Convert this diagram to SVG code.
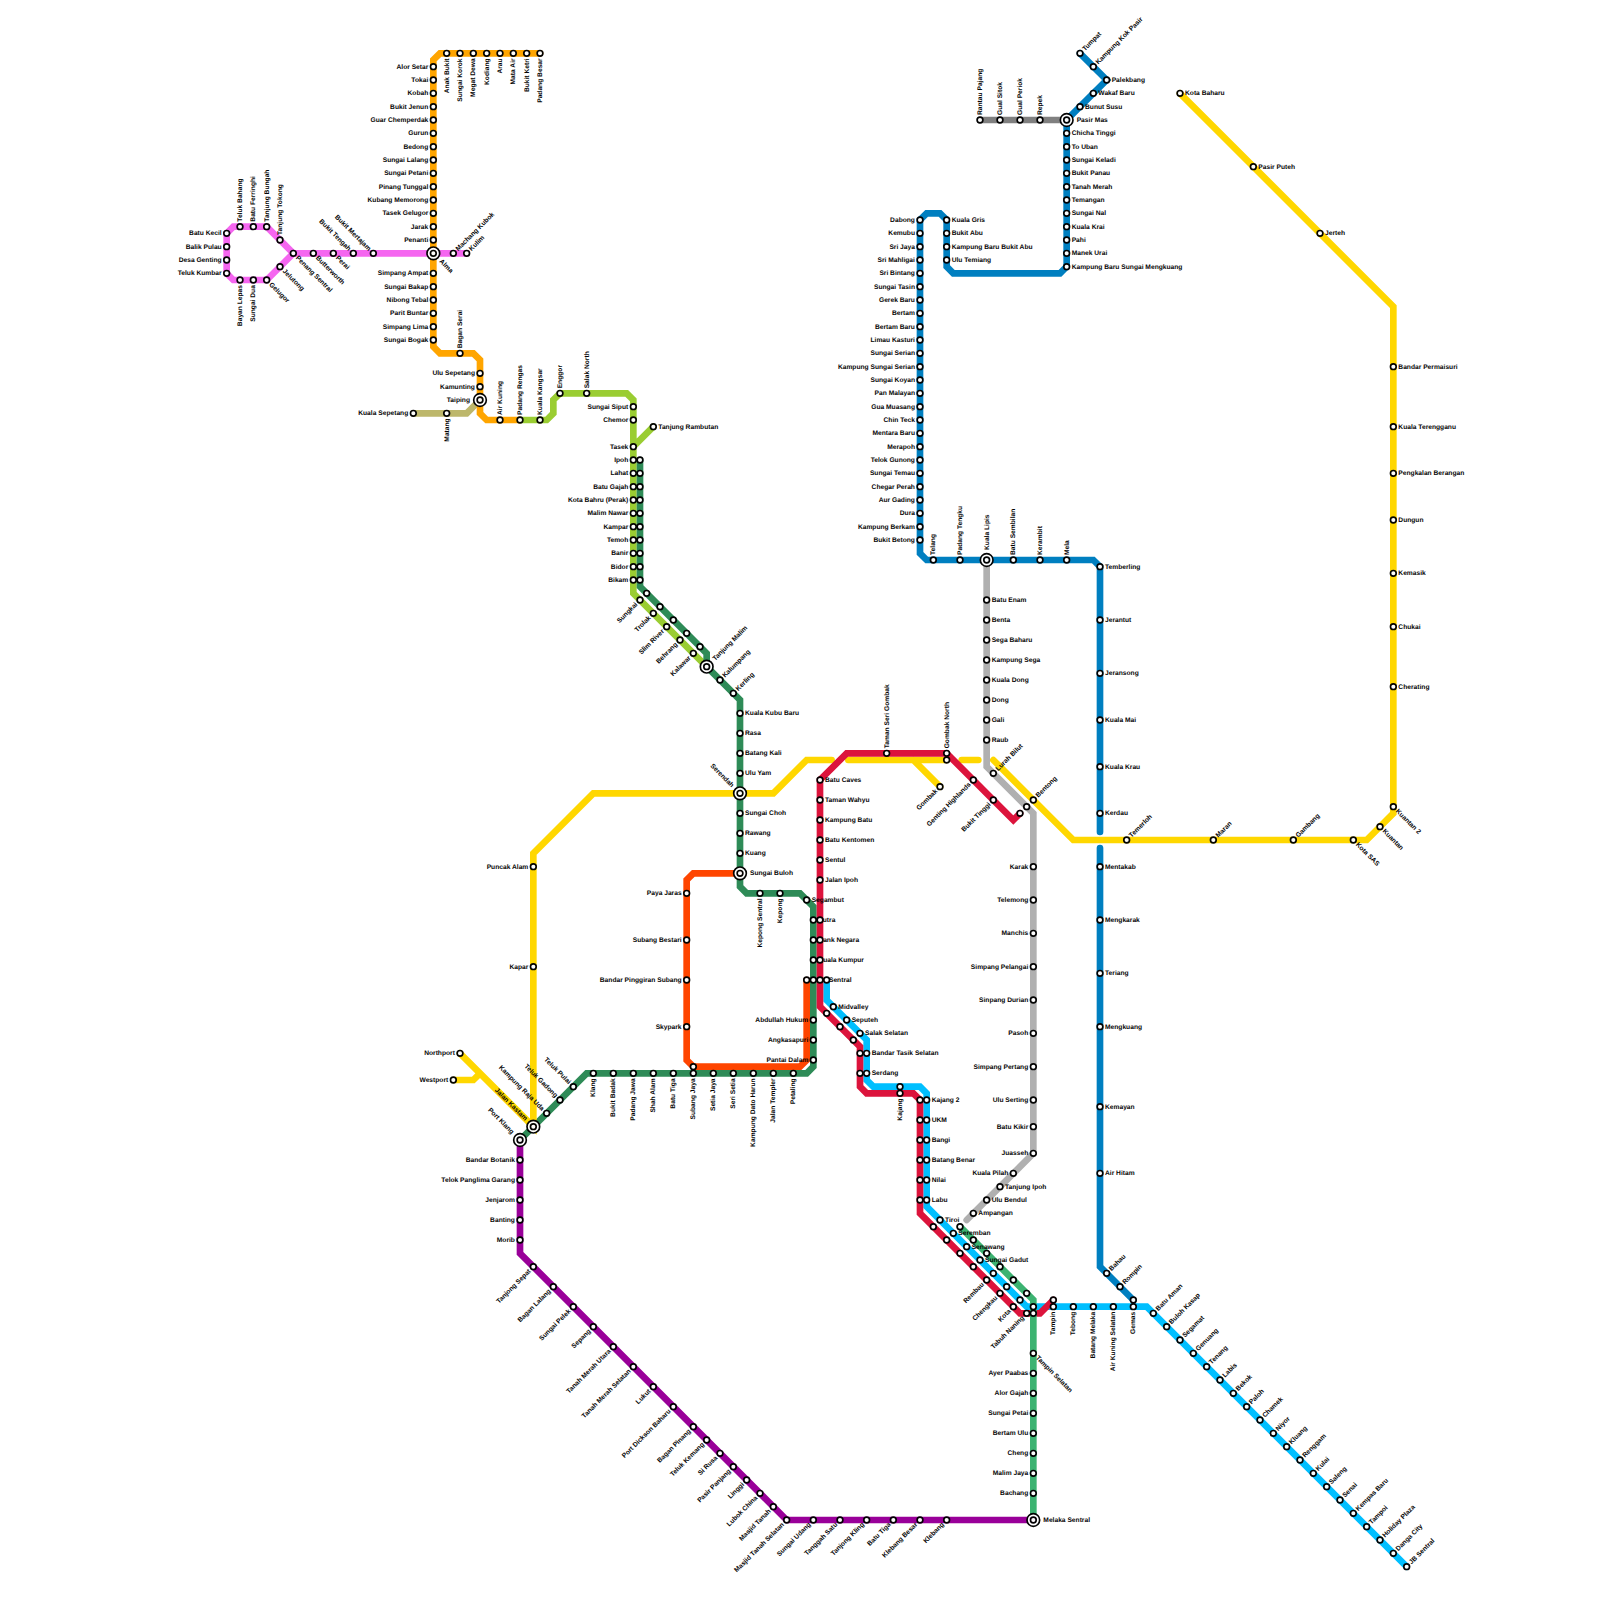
<svg xmlns="http://www.w3.org/2000/svg" width="1600" height="1600" viewBox="0 0 1600 1600">
<style>
text{font-family:"Liberation Sans",Arial,sans-serif;font-size:1px;font-weight:700;fill:#000;text-rendering:geometricPrecision}
.e{text-anchor:end}
.l{fill:none;stroke-width:1;stroke-linecap:round}
.st{fill:#fff;stroke:#000;stroke-width:.25}
</style>
<defs>
<circle id="s" class="st" r=".43"/>
<circle id="b" class="st" r=".95"/>
</defs>
<rect width="1600" height="1600" fill="#fff"/>
<g transform="scale(6.66667)">
<g id="connectors">
<path class="l" stroke="#BDB76B" d="M62 62H70L72 60"/>
<path class="l" stroke="#F566F0" d="M70 38H44L40 34H35L34 35V41L35 42H40L44 38"/>
<path class="l" stroke="#FFA500" d="M81 8H66L65 9V52L66 53H71L72 54V62L73 63H78"/>
<path class="l" stroke="#9ACD32" d="M78 63H82L83 62V60L84 59H94L95 60V89L106 100M95 67L98 64"/>
<path class="l" stroke="#2E8B57" d="M96 69V88L106 98V100L111 105V133L112 134H120L122 136V160L121 161H88L78 171"/>
<path class="l" stroke="#FF4500" d="M111 131H104L103 132V159L104 160H120L121 159V147"/>
<path class="l" stroke="#FFD700" d="M69 158L80 169V128L89 119H116L121 114H124.75M127.25 114H142M137 114L141 118M144.25 114H146.75M149 114L161 126H205L209 122V46L177 14M68 162H71L72 161"/>
<path class="l" stroke="#00BFFF" d="M124 147V150L130 156V162L131 163H138L139 164V181L154 196H172L211 235"/>
<path class="l" stroke="#DC143C" d="M153 122L152 123L142 113H127L123 117V151L129 157V163L130 164H137L138 165V182L153 197H156L158 195"/>
<path class="l" stroke="#3CB371" d="M144 184L155 195V228"/>
<path class="l" stroke="#B0B0B0" d="M148 84V115L155 122V173L145 183"/>
<path class="l" stroke="#808080" d="M147 18H160"/>
<path class="l" stroke="#007FC0" d="M162 8L166 12L160 18V40L159 41H143L142 40V33L141 32H139L138 33V83L139 84H164L165 85V124.8M165 127.2V190L170 195"/>
<path class="l" stroke="#990099" d="M78 171V188L118 228H155"/>
</g>
<g id="nodes" opacity=".98">
<g id="alor-setar" transform="translate(65 10)"><text class="e" x="-.75" y=".3">Alor Setar</text><use href="#s"/></g>
<g id="tokai" transform="translate(65 12)"><text class="e" x="-.75" y=".3">Tokai</text><use href="#s"/></g>
<g id="kobah" transform="translate(65 14)"><text class="e" x="-.75" y=".3">Kobah</text><use href="#s"/></g>
<g id="bukit-jenun" transform="translate(65 16)"><text class="e" x="-.75" y=".3">Bukit Jenun</text><use href="#s"/></g>
<g id="guar-chemperdak" transform="translate(65 18)"><text class="e" x="-.75" y=".3">Guar Chemperdak</text><use href="#s"/></g>
<g id="gurun" transform="translate(65 20)"><text class="e" x="-.75" y=".3">Gurun</text><use href="#s"/></g>
<g id="bedong" transform="translate(65 22)"><text class="e" x="-.75" y=".3">Bedong</text><use href="#s"/></g>
<g id="sungai-lalang" transform="translate(65 24)"><text class="e" x="-.75" y=".3">Sungai Lalang</text><use href="#s"/></g>
<g id="sungai-petani" transform="translate(65 26)"><text class="e" x="-.75" y=".3">Sungai Petani</text><use href="#s"/></g>
<g id="pinang-tunggal" transform="translate(65 28)"><text class="e" x="-.75" y=".3">Pinang Tunggal</text><use href="#s"/></g>
<g id="kubang-memorong" transform="translate(65 30)"><text class="e" x="-.75" y=".3">Kubang Memorong</text><use href="#s"/></g>
<g id="tasek-gelugor" transform="translate(65 32)"><text class="e" x="-.75" y=".3">Tasek Gelugor</text><use href="#s"/></g>
<g id="jarak" transform="translate(65 34)"><text class="e" x="-.75" y=".3">Jarak</text><use href="#s"/></g>
<g id="penanti" transform="translate(65 36)"><text class="e" x="-.75" y=".3">Penanti</text><use href="#s"/></g>
<g id="simpang-ampat" transform="translate(65 41)"><text class="e" x="-.75" y=".3">Simpang Ampat</text><use href="#s"/></g>
<g id="sungai-bakap" transform="translate(65 43)"><text class="e" x="-.75" y=".3">Sungai Bakap</text><use href="#s"/></g>
<g id="nibong-tebal" transform="translate(65 45)"><text class="e" x="-.75" y=".3">Nibong Tebal</text><use href="#s"/></g>
<g id="parit-buntar" transform="translate(65 47)"><text class="e" x="-.75" y=".3">Parit Buntar</text><use href="#s"/></g>
<g id="simpang-lima" transform="translate(65 49)"><text class="e" x="-.75" y=".3">Simpang Lima</text><use href="#s"/></g>
<g id="sungai-bogak" transform="translate(65 51)"><text class="e" x="-.75" y=".3">Sungai Bogak</text><use href="#s"/></g>
<g id="anak-bukit" transform="translate(67 8)"><text class="e" transform="rotate(-90)" x="-.75" y=".3">Anak Bukit</text><use href="#s"/></g>
<g id="sungai-korok" transform="translate(69 8)"><text class="e" transform="rotate(-90)" x="-.75" y=".3">Sungai Korok</text><use href="#s"/></g>
<g id="megat-dewa" transform="translate(71 8)"><text class="e" transform="rotate(-90)" x="-.75" y=".3">Megat Dewa</text><use href="#s"/></g>
<g id="kodiang" transform="translate(73 8)"><text class="e" transform="rotate(-90)" x="-.75" y=".3">Kodiang</text><use href="#s"/></g>
<g id="arau" transform="translate(75 8)"><text class="e" transform="rotate(-90)" x="-.75" y=".3">Arau</text><use href="#s"/></g>
<g id="mata-air" transform="translate(77 8)"><text class="e" transform="rotate(-90)" x="-.75" y=".3">Mata Air</text><use href="#s"/></g>
<g id="bukit-ketri" transform="translate(79 8)"><text class="e" transform="rotate(-90)" x="-.75" y=".3">Bukit Ketri</text><use href="#s"/></g>
<g id="padang-besar" transform="translate(81 8)"><text class="e" transform="rotate(-90)" x="-.75" y=".3">Padang Besar</text><use href="#s"/></g>
<g id="bagan-serai" transform="translate(69 53)"><text transform="rotate(-90)" x=".75" y=".3">Bagan Serai</text><use href="#s"/></g>
<g id="ulu-sepetang" transform="translate(72 56)"><text class="e" x="-.75" y=".3">Ulu Sepetang</text><use href="#s"/></g>
<g id="kamunting" transform="translate(72 58)"><text class="e" x="-.75" y=".3">Kamunting</text><use href="#s"/></g>
<g id="air-kuning" transform="translate(75 63)"><text transform="rotate(-90)" x=".75" y=".3">Air Kuning</text><use href="#s"/></g>
<g id="padang-rengas" transform="translate(78 63)"><text transform="rotate(-90)" x=".75" y=".3">Padang Rengas</text><use href="#s"/></g>
<g id="kuala-kangsar" transform="translate(81 63)"><text transform="rotate(-90)" x=".75" y=".3">Kuala Kangsar</text><use href="#s"/></g>
<g id="enggor" transform="translate(84 59)"><text transform="rotate(-90)" x=".75" y=".3">Enggor</text><use href="#s"/></g>
<g id="salak-north" transform="translate(88 59)"><text transform="rotate(-90)" x=".75" y=".3">Salak North</text><use href="#s"/></g>
<g id="kuala-sepetang" transform="translate(62 62)"><text class="e" x="-.75" y=".3">Kuala Sepetang</text><use href="#s"/></g>
<g id="matang" transform="translate(67 62)"><text class="e" transform="rotate(-90)" x="-.75" y=".3">Matang</text><use href="#s"/></g>
<g id="taiping" transform="translate(72 60)"><use href="#b"/><text class="e" x="-1.5" y=".3">Taiping</text><use href="#s"/></g>
<g id="batu-kecil" transform="translate(34 35)"><text class="e" x="-.75" y=".3">Batu Kecil</text><use href="#s"/></g>
<g id="balik-pulau" transform="translate(34 37)"><text class="e" x="-.75" y=".3">Balik Pulau</text><use href="#s"/></g>
<g id="desa-genting" transform="translate(34 39)"><text class="e" x="-.75" y=".3">Desa Genting</text><use href="#s"/></g>
<g id="teluk-kumbar" transform="translate(34 41)"><text class="e" x="-.75" y=".3">Teluk Kumbar</text><use href="#s"/></g>
<g id="teluk-bahang" transform="translate(36 34)"><text transform="rotate(-90)" x=".75" y=".3">Teluk Bahang</text><use href="#s"/></g>
<g id="batu-ferringhi" transform="translate(38 34)"><text transform="rotate(-90)" x=".75" y=".3">Batu Ferringhi</text><use href="#s"/></g>
<g id="tanjung-bungah" transform="translate(40 34)"><text transform="rotate(-90)" x=".75" y=".3">Tanjung Bungah</text><use href="#s"/></g>
<g id="tanjung-tokong" transform="translate(42 36)"><text transform="rotate(-90)" x=".75" y=".3">Tanjung Tokong</text><use href="#s"/></g>
<g id="bayan-lepas" transform="translate(36 42)"><text class="e" transform="rotate(-90)" x="-.75" y=".3">Bayan Lepas</text><use href="#s"/></g>
<g id="sungai-dua" transform="translate(38 42)"><text class="e" transform="rotate(-90)" x="-.75" y=".3">Sungai Dua</text><use href="#s"/></g>
<g id="gelugor" transform="translate(40 42)"><text transform="rotate(45)" x=".75" y=".3">Gelugor</text><use href="#s"/></g>
<g id="jelutong" transform="translate(42 40)"><text transform="rotate(45)" x=".75" y=".3">Jelutong</text><use href="#s"/></g>
<g id="penang-sentral" transform="translate(44 38)"><text transform="rotate(45)" x=".75" y=".3">Penang Sentral</text><use href="#s"/></g>
<g id="butterworth" transform="translate(47 38)"><text transform="rotate(45)" x=".75" y=".3">Butterworth</text><use href="#s"/></g>
<g id="perai" transform="translate(50 38)"><text transform="rotate(45)" x=".75" y=".3">Perai</text><use href="#s"/></g>
<g id="bukit-tengah" transform="translate(53 38)"><text class="e" transform="rotate(45)" x="-.75" y=".3">Bukit Tengah</text><use href="#s"/></g>
<g id="bukit-mertajam" transform="translate(56 38)"><text class="e" transform="rotate(45)" x="-.75" y=".3">Bukit Mertajam</text><use href="#s"/></g>
<g id="alma" transform="translate(65 38)"><use href="#b"/><text transform="rotate(45)" x="1.5" y=".3">Alma</text><use href="#s"/></g>
<g id="machang-kubok" transform="translate(68 38)"><text transform="rotate(-45)" x=".75" y=".3">Machang Kubok</text><use href="#s"/></g>
<g id="kulim" transform="translate(70 38)"><text transform="rotate(-45)" x=".75" y=".3">Kulim</text><use href="#s"/></g>
<g id="sungai-siput" transform="translate(95 61)"><text class="e" x="-.75" y=".3">Sungai Siput</text><use href="#s"/></g>
<g id="chemor" transform="translate(95 63)"><text class="e" x="-.75" y=".3">Chemor</text><use href="#s"/></g>
<g id="tanjung-rambutan" transform="translate(98 64)"><text x=".75" y=".3">Tanjung Rambutan</text><use href="#s"/></g>
<g id="tasek" transform="translate(95 67)"><text class="e" x="-.75" y=".3">Tasek</text><use href="#s"/></g>
<g id="ipoh" transform="translate(95 69)"><text class="e" x="-.75" y=".3">Ipoh</text><use href="#s"/></g>
<g id="lahat" transform="translate(95 71)"><text class="e" x="-.75" y=".3">Lahat</text><use href="#s"/></g>
<g id="batu-gajah" transform="translate(95 73)"><text class="e" x="-.75" y=".3">Batu Gajah</text><use href="#s"/></g>
<g id="kota-bahru" transform="translate(95 75)"><text class="e" x="-.75" y=".3">Kota Bahru (Perak)</text><use href="#s"/></g>
<g id="malim-nawar" transform="translate(95 77)"><text class="e" x="-.75" y=".3">Malim Nawar</text><use href="#s"/></g>
<g id="kampar" transform="translate(95 79)"><text class="e" x="-.75" y=".3">Kampar</text><use href="#s"/></g>
<g id="temoh" transform="translate(95 81)"><text class="e" x="-.75" y=".3">Temoh</text><use href="#s"/></g>
<g id="banir" transform="translate(95 83)"><text class="e" x="-.75" y=".3">Banir</text><use href="#s"/></g>
<g id="bidor" transform="translate(95 85)"><text class="e" x="-.75" y=".3">Bidor</text><use href="#s"/></g>
<g id="bikam" transform="translate(95 87)"><text class="e" x="-.75" y=".3">Bikam</text><use href="#s"/></g>
<g id="sg69" transform="translate(96 69)"><use href="#s"/></g>
<g id="sg71" transform="translate(96 71)"><use href="#s"/></g>
<g id="sg73" transform="translate(96 73)"><use href="#s"/></g>
<g id="sg75" transform="translate(96 75)"><use href="#s"/></g>
<g id="sg77" transform="translate(96 77)"><use href="#s"/></g>
<g id="sg79" transform="translate(96 79)"><use href="#s"/></g>
<g id="sg81" transform="translate(96 81)"><use href="#s"/></g>
<g id="sg83" transform="translate(96 83)"><use href="#s"/></g>
<g id="sg85" transform="translate(96 85)"><use href="#s"/></g>
<g id="sg87" transform="translate(96 87)"><use href="#s"/></g>
<g id="sg89" transform="translate(97 89)"><use href="#s"/></g>
<g id="sg91" transform="translate(99 91)"><use href="#s"/></g>
<g id="sg93" transform="translate(101 93)"><use href="#s"/></g>
<g id="sg95" transform="translate(103 95)"><use href="#s"/></g>
<g id="sg97" transform="translate(105 97)"><use href="#s"/></g>
<g id="sungkai" transform="translate(96 90)"><text class="e" transform="rotate(-45)" x="-.75" y=".3">Sungkai</text><use href="#s"/></g>
<g id="trolak" transform="translate(98 92)"><text class="e" transform="rotate(-45)" x="-.75" y=".3">Trolak</text><use href="#s"/></g>
<g id="slim-river" transform="translate(100 94)"><text class="e" transform="rotate(-45)" x="-.75" y=".3">Slim River</text><use href="#s"/></g>
<g id="behrang" transform="translate(102 96)"><text class="e" transform="rotate(-45)" x="-.75" y=".3">Behrang</text><use href="#s"/></g>
<g id="kalawar" transform="translate(104 98)"><text class="e" transform="rotate(-45)" x="-.75" y=".3">Kalawar</text><use href="#s"/></g>
<g id="tanjung-malim" transform="translate(106 100)"><use href="#b"/><text transform="rotate(-45)" x="1.5" y=".3">Tanjung Malim</text><use href="#s"/></g>
<g id="kalumpang" transform="translate(108 102)"><text transform="rotate(-45)" x=".75" y=".3">Kalumpang</text><use href="#s"/></g>
<g id="kerling" transform="translate(110 104)"><text transform="rotate(-45)" x=".75" y=".3">Kerling</text><use href="#s"/></g>
<g id="kuala-kubu-baru" transform="translate(111 107)"><text x=".75" y=".3">Kuala Kubu Baru</text><use href="#s"/></g>
<g id="rasa" transform="translate(111 110)"><text x=".75" y=".3">Rasa</text><use href="#s"/></g>
<g id="batang-kali" transform="translate(111 113)"><text x=".75" y=".3">Batang Kali</text><use href="#s"/></g>
<g id="ulu-yam" transform="translate(111 116)"><text x=".75" y=".3">Ulu Yam</text><use href="#s"/></g>
<g id="serendah" transform="translate(111 119)"><use href="#b"/><text class="e" transform="rotate(45)" x="-1.5" y=".3">Serendah</text><use href="#s"/></g>
<g id="sungai-choh" transform="translate(111 122)"><text x=".75" y=".3">Sungai Choh</text><use href="#s"/></g>
<g id="rawang" transform="translate(111 125)"><text x=".75" y=".3">Rawang</text><use href="#s"/></g>
<g id="kuang" transform="translate(111 128)"><text x=".75" y=".3">Kuang</text><use href="#s"/></g>
<g id="sungai-buloh" transform="translate(111 131)"><use href="#b"/><text x="1.5" y=".3">Sungai Buloh</text><use href="#s"/></g>
<g id="kepong-sentral" transform="translate(114 134)"><text class="e" transform="rotate(-90)" x="-.75" y=".3">Kepong Sentral</text><use href="#s"/></g>
<g id="kepong" transform="translate(117 134)"><text class="e" transform="rotate(-90)" x="-.75" y=".3">Kepong</text><use href="#s"/></g>
<g id="segambut" transform="translate(121 135)"><text x=".75" y=".3">Segambut</text><use href="#s"/></g>
<g id="putra" transform="translate(122 138)"><text x=".75" y=".3">Putra</text><use href="#s"/></g>
<g id="bank-negara" transform="translate(122 141)"><text x=".75" y=".3">Bank Negara</text><use href="#s"/></g>
<g id="kuala-kumpur" transform="translate(122 144)"><text x=".75" y=".3">Kuala Kumpur</text><use href="#s"/></g>
<g id="kl-sentral" transform="translate(122 147)"><text x=".75" y=".3">KL Sentral</text><use href="#s"/></g>
<g id="abdullah-hukum" transform="translate(122 153)"><text class="e" x="-.75" y=".3">Abdullah Hukum</text><use href="#s"/></g>
<g id="angkasapuri" transform="translate(122 156)"><text class="e" x="-.75" y=".3">Angkasapuri</text><use href="#s"/></g>
<g id="pantai-dalam" transform="translate(122 159)"><text class="e" x="-.75" y=".3">Pantai Dalam</text><use href="#s"/></g>
<g id="petaling" transform="translate(119 161)"><text class="e" transform="rotate(-90)" x="-.75" y=".3">Petaling</text><use href="#s"/></g>
<g id="jalan-templer" transform="translate(116 161)"><text class="e" transform="rotate(-90)" x="-.75" y=".3">Jalan Templer</text><use href="#s"/></g>
<g id="kampung-dato-harun" transform="translate(113 161)"><text class="e" transform="rotate(-90)" x="-.75" y=".3">Kampung Dato Harun</text><use href="#s"/></g>
<g id="seri-setia" transform="translate(110 161)"><text class="e" transform="rotate(-90)" x="-.75" y=".3">Seri Setia</text><use href="#s"/></g>
<g id="setia-jaya" transform="translate(107 161)"><text class="e" transform="rotate(-90)" x="-.75" y=".3">Setia Jaya</text><use href="#s"/></g>
<g id="subang-jaya" transform="translate(104 161)"><text class="e" transform="rotate(-90)" x="-.75" y=".3">Subang Jaya</text><use href="#s"/></g>
<g id="batu-tiga" transform="translate(101 161)"><text class="e" transform="rotate(-90)" x="-.75" y=".3">Batu Tiga</text><use href="#s"/></g>
<g id="shah-alam" transform="translate(98 161)"><text class="e" transform="rotate(-90)" x="-.75" y=".3">Shah Alam</text><use href="#s"/></g>
<g id="padang-jawa" transform="translate(95 161)"><text class="e" transform="rotate(-90)" x="-.75" y=".3">Padang Jawa</text><use href="#s"/></g>
<g id="bukit-badak" transform="translate(92 161)"><text class="e" transform="rotate(-90)" x="-.75" y=".3">Bukit Badak</text><use href="#s"/></g>
<g id="klang" transform="translate(89 161)"><text class="e" transform="rotate(-90)" x="-.75" y=".3">Klang</text><use href="#s"/></g>
<g id="teluk-pulai" transform="translate(86 163)"><text class="e" transform="rotate(45)" x="-.75" y=".3">Teluk Pulai</text><use href="#s"/></g>
<g id="teluk-gadong" transform="translate(84 165)"><text class="e" transform="rotate(45)" x="-.75" y=".3">Teluk Gadong</text><use href="#s"/></g>
<g id="kampung-raja-uda" transform="translate(82 167)"><text class="e" transform="rotate(45)" x="-.75" y=".3">Kampung Raja Uda</text><use href="#s"/></g>
<g id="jalan-kastam" transform="translate(80 169)"><use href="#b"/><text class="e" transform="rotate(45)" x="-1.5" y=".3">Jalan Kastam</text><use href="#s"/></g>
<g id="port-klang" transform="translate(78 171)"><use href="#b"/><text class="e" transform="rotate(45)" x="-1.5" y=".3">Port Klang</text><use href="#s"/></g>
<g id="paya-jaras" transform="translate(103 134)"><text class="e" x="-.75" y=".3">Paya Jaras</text><use href="#s"/></g>
<g id="subang-bestari" transform="translate(103 141)"><text class="e" x="-.75" y=".3">Subang Bestari</text><use href="#s"/></g>
<g id="bandar-pinggiran-subang" transform="translate(103 147)"><text class="e" x="-.75" y=".3">Bandar Pinggiran Subang</text><use href="#s"/></g>
<g id="skypark" transform="translate(103 154)"><text class="e" x="-.75" y=".3">Skypark</text><use href="#s"/></g>
<g id="or1" transform="translate(104 160)"><use href="#s"/></g>
<g id="or2" transform="translate(121 147)"><use href="#s"/></g>
<g id="northport" transform="translate(69 158)"><text class="e" x="-.75" y=".3">Northport</text><use href="#s"/></g>
<g id="westport" transform="translate(68 162)"><text class="e" x="-.75" y=".3">Westport</text><use href="#s"/></g>
<g id="kapar" transform="translate(80 145)"><text class="e" x="-.75" y=".3">Kapar</text><use href="#s"/></g>
<g id="puncak-alam" transform="translate(80 130)"><text class="e" x="-.75" y=".3">Puncak Alam</text><use href="#s"/></g>
<g id="gd1" transform="translate(142 114)"><use href="#s"/></g>
<g id="gombak" transform="translate(141 118)"><text class="e" transform="rotate(-45)" x="-.75" y=".3">Gombak</text><use href="#s"/></g>
<g id="bentong" transform="translate(155 120)"><text transform="rotate(-45)" x=".75" y=".3">Bentong</text><use href="#s"/></g>
<g id="temerloh" transform="translate(169 126)"><text transform="rotate(-45)" x=".75" y=".3">Temerloh</text><use href="#s"/></g>
<g id="maran" transform="translate(182 126)"><text transform="rotate(-45)" x=".75" y=".3">Maran</text><use href="#s"/></g>
<g id="gambang" transform="translate(194 126)"><text transform="rotate(-45)" x=".75" y=".3">Gambang</text><use href="#s"/></g>
<g id="kota-sas" transform="translate(203 126)"><text transform="rotate(45)" x=".75" y=".3">Kota SAS</text><use href="#s"/></g>
<g id="kuantan" transform="translate(207 124)"><text transform="rotate(45)" x=".75" y=".3">Kuantan</text><use href="#s"/></g>
<g id="kuantan-2" transform="translate(209 121)"><text transform="rotate(45)" x=".75" y=".3">Kuantan 2</text><use href="#s"/></g>
<g id="cherating" transform="translate(209 103)"><text x=".75" y=".3">Cherating</text><use href="#s"/></g>
<g id="chukai" transform="translate(209 94)"><text x=".75" y=".3">Chukai</text><use href="#s"/></g>
<g id="kemasik" transform="translate(209 86)"><text x=".75" y=".3">Kemasik</text><use href="#s"/></g>
<g id="dungun" transform="translate(209 78)"><text x=".75" y=".3">Dungun</text><use href="#s"/></g>
<g id="pengkalan-berangan" transform="translate(209 71)"><text x=".75" y=".3">Pengkalan Berangan</text><use href="#s"/></g>
<g id="kuala-terengganu" transform="translate(209 64)"><text x=".75" y=".3">Kuala Terengganu</text><use href="#s"/></g>
<g id="bandar-permaisuri" transform="translate(209 55)"><text x=".75" y=".3">Bandar Permaisuri</text><use href="#s"/></g>
<g id="jerteh" transform="translate(198 35)"><text x=".75" y=".3">Jerteh</text><use href="#s"/></g>
<g id="pasir-puteh" transform="translate(188 25)"><text x=".75" y=".3">Pasir Puteh</text><use href="#s"/></g>
<g id="kota-baharu" transform="translate(177 14)"><text x=".75" y=".3">Kota Baharu</text><use href="#s"/></g>
<g id="batu-caves" transform="translate(123 117)"><text x=".75" y=".3">Batu Caves</text><use href="#s"/></g>
<g id="taman-wahyu" transform="translate(123 120)"><text x=".75" y=".3">Taman Wahyu</text><use href="#s"/></g>
<g id="kampung-batu" transform="translate(123 123)"><text x=".75" y=".3">Kampung Batu</text><use href="#s"/></g>
<g id="batu-kentomen" transform="translate(123 126)"><text x=".75" y=".3">Batu Kentomen</text><use href="#s"/></g>
<g id="sentul" transform="translate(123 129)"><text x=".75" y=".3">Sentul</text><use href="#s"/></g>
<g id="jalan-ipoh" transform="translate(123 132)"><text x=".75" y=".3">Jalan Ipoh</text><use href="#s"/></g>
<g id="r138" transform="translate(123 138)"><use href="#s"/></g>
<g id="r141" transform="translate(123 141)"><use href="#s"/></g>
<g id="r144" transform="translate(123 144)"><use href="#s"/></g>
<g id="r147" transform="translate(123 147)"><use href="#s"/></g>
<g id="b147" transform="translate(124 147)"><use href="#s"/></g>
<g id="r152" transform="translate(124 152)"><use href="#s"/></g>
<g id="r154" transform="translate(126 154)"><use href="#s"/></g>
<g id="r156" transform="translate(128 156)"><use href="#s"/></g>
<g id="r158" transform="translate(129 158)"><use href="#s"/></g>
<g id="r161" transform="translate(129 161)"><use href="#s"/></g>
<g id="midvalley" transform="translate(125 151)"><text x=".75" y=".3">Midvalley</text><use href="#s"/></g>
<g id="seputeh" transform="translate(127 153)"><text x=".75" y=".3">Seputeh</text><use href="#s"/></g>
<g id="salak-selatan" transform="translate(129 155)"><text x=".75" y=".3">Salak Selatan</text><use href="#s"/></g>
<g id="bandar-tasik-selatan" transform="translate(130 158)"><text x=".75" y=".3">Bandar Tasik Selatan</text><use href="#s"/></g>
<g id="serdang" transform="translate(130 161)"><text x=".75" y=".3">Serdang</text><use href="#s"/></g>
<g id="b163" transform="translate(135 163)"><use href="#s"/></g>
<g id="kajang" transform="translate(135 164)"><text class="e" transform="rotate(-90)" x="-.75" y=".3">Kajang</text><use href="#s"/></g>
<g id="r165" transform="translate(138 165)"><use href="#s"/></g>
<g id="r168" transform="translate(138 168)"><use href="#s"/></g>
<g id="r171" transform="translate(138 171)"><use href="#s"/></g>
<g id="r174" transform="translate(138 174)"><use href="#s"/></g>
<g id="r177" transform="translate(138 177)"><use href="#s"/></g>
<g id="r180" transform="translate(138 180)"><use href="#s"/></g>
<g id="kajang-2" transform="translate(139 165)"><text x=".75" y=".3">Kajang 2</text><use href="#s"/></g>
<g id="ukm" transform="translate(139 168)"><text x=".75" y=".3">UKM</text><use href="#s"/></g>
<g id="bangi" transform="translate(139 171)"><text x=".75" y=".3">Bangi</text><use href="#s"/></g>
<g id="batang-benar" transform="translate(139 174)"><text x=".75" y=".3">Batang Benar</text><use href="#s"/></g>
<g id="nilai" transform="translate(139 177)"><text x=".75" y=".3">Nilai</text><use href="#s"/></g>
<g id="labu" transform="translate(139 180)"><text x=".75" y=".3">Labu</text><use href="#s"/></g>
<g id="tiroi" transform="translate(141 183)"><text x=".75" y=".3">Tiroi</text><use href="#s"/></g>
<g id="seremban" transform="translate(143 185)"><text x=".75" y=".3">Seremban</text><use href="#s"/></g>
<g id="senawang" transform="translate(145 187)"><text x=".75" y=".3">Senawang</text><use href="#s"/></g>
<g id="sungai-gadut" transform="translate(147 189)"><text x=".75" y=".3">Sungai Gadut</text><use href="#s"/></g>
<g id="b191" transform="translate(149 191)"><use href="#s"/></g>
<g id="b193" transform="translate(151 193)"><use href="#s"/></g>
<g id="b195" transform="translate(153 195)"><use href="#s"/></g>
<g id="r184" transform="translate(140 184)"><use href="#s"/></g>
<g id="r186" transform="translate(142 186)"><use href="#s"/></g>
<g id="r188" transform="translate(144 188)"><use href="#s"/></g>
<g id="r190" transform="translate(146 190)"><use href="#s"/></g>
<g id="rembau" transform="translate(148 192)"><text class="e" transform="rotate(-45)" x="-.75" y=".3">Rembau</text><use href="#s"/></g>
<g id="chengkau" transform="translate(150 194)"><text class="e" transform="rotate(-45)" x="-.75" y=".3">Chengkau</text><use href="#s"/></g>
<g id="kota" transform="translate(152 196)"><text class="e" transform="rotate(-45)" x="-.75" y=".3">Kota</text><use href="#s"/></g>
<g id="tabuh-naning" transform="translate(154 197)"><text class="e" transform="rotate(-45)" x="-.75" y=".3">Tabuh Naning</text><use href="#s"/></g>
<g id="r197" transform="translate(155 197)"><use href="#s"/></g>
<g id="r195" transform="translate(158 195)"><use href="#s"/></g>
<g id="g184" transform="translate(144 184)"><use href="#s"/></g>
<g id="g186" transform="translate(146 186)"><use href="#s"/></g>
<g id="g188" transform="translate(148 188)"><use href="#s"/></g>
<g id="g190" transform="translate(150 190)"><use href="#s"/></g>
<g id="g192" transform="translate(152 192)"><use href="#s"/></g>
<g id="g194" transform="translate(154 194)"><use href="#s"/></g>
<g id="g196" transform="translate(155 196)"><use href="#s"/></g>
<g id="tampin-selatan" transform="translate(155 203)"><text transform="rotate(45)" x=".75" y=".3">Tampin Selatan</text><use href="#s"/></g>
<g id="ayer-paabas" transform="translate(155 206)"><text class="e" x="-.75" y=".3">Ayer Paabas</text><use href="#s"/></g>
<g id="alor-gajah" transform="translate(155 209)"><text class="e" x="-.75" y=".3">Alor Gajah</text><use href="#s"/></g>
<g id="sungai-petai" transform="translate(155 212)"><text class="e" x="-.75" y=".3">Sungai Petai</text><use href="#s"/></g>
<g id="bertam-ulu" transform="translate(155 215)"><text class="e" x="-.75" y=".3">Bertam Ulu</text><use href="#s"/></g>
<g id="cheng" transform="translate(155 218)"><text class="e" x="-.75" y=".3">Cheng</text><use href="#s"/></g>
<g id="malim-jaya" transform="translate(155 221)"><text class="e" x="-.75" y=".3">Malim Jaya</text><use href="#s"/></g>
<g id="bachang" transform="translate(155 224)"><text class="e" x="-.75" y=".3">Bachang</text><use href="#s"/></g>
<g id="melaka-sentral" transform="translate(155 228)"><use href="#b"/><text x="1.5" y=".3">Melaka Sentral</text><use href="#s"/></g>
<g id="tampin" transform="translate(158 196)"><text class="e" transform="rotate(-90)" x="-.75" y=".3">Tampin</text><use href="#s"/></g>
<g id="tebong" transform="translate(161 196)"><text class="e" transform="rotate(-90)" x="-.75" y=".3">Tebong</text><use href="#s"/></g>
<g id="batang-melaka" transform="translate(164 196)"><text class="e" transform="rotate(-90)" x="-.75" y=".3">Batang Melaka</text><use href="#s"/></g>
<g id="air-kuning-selatan" transform="translate(167 196)"><text class="e" transform="rotate(-90)" x="-.75" y=".3">Air Kuning Selatan</text><use href="#s"/></g>
<g id="gemas" transform="translate(170 196)"><text class="e" transform="rotate(-90)" x="-.75" y=".3">Gemas</text><use href="#s"/></g>
<g id="bl195" transform="translate(170 195)"><use href="#s"/></g>
<g id="batu-aman" transform="translate(173 197)"><text transform="rotate(-45)" x=".75" y=".3">Batu Aman</text><use href="#s"/></g>
<g id="buloh-kasap" transform="translate(175 199)"><text transform="rotate(-45)" x=".75" y=".3">Buloh Kasap</text><use href="#s"/></g>
<g id="segamat" transform="translate(177 201)"><text transform="rotate(-45)" x=".75" y=".3">Segamat</text><use href="#s"/></g>
<g id="genuang" transform="translate(179 203)"><text transform="rotate(-45)" x=".75" y=".3">Genuang</text><use href="#s"/></g>
<g id="tenang" transform="translate(181 205)"><text transform="rotate(-45)" x=".75" y=".3">Tenang</text><use href="#s"/></g>
<g id="labis" transform="translate(183 207)"><text transform="rotate(-45)" x=".75" y=".3">Labis</text><use href="#s"/></g>
<g id="bekok" transform="translate(185 209)"><text transform="rotate(-45)" x=".75" y=".3">Bekok</text><use href="#s"/></g>
<g id="paloh" transform="translate(187 211)"><text transform="rotate(-45)" x=".75" y=".3">Paloh</text><use href="#s"/></g>
<g id="chamek" transform="translate(189 213)"><text transform="rotate(-45)" x=".75" y=".3">Chamek</text><use href="#s"/></g>
<g id="niyor" transform="translate(191 215)"><text transform="rotate(-45)" x=".75" y=".3">Niyor</text><use href="#s"/></g>
<g id="kluang" transform="translate(193 217)"><text transform="rotate(-45)" x=".75" y=".3">Kluang</text><use href="#s"/></g>
<g id="renggam" transform="translate(195 219)"><text transform="rotate(-45)" x=".75" y=".3">Renggam</text><use href="#s"/></g>
<g id="kulai" transform="translate(197 221)"><text transform="rotate(-45)" x=".75" y=".3">Kulai</text><use href="#s"/></g>
<g id="saleng" transform="translate(199 223)"><text transform="rotate(-45)" x=".75" y=".3">Saleng</text><use href="#s"/></g>
<g id="senai" transform="translate(201 225)"><text transform="rotate(-45)" x=".75" y=".3">Senai</text><use href="#s"/></g>
<g id="kempas-baru" transform="translate(203 227)"><text transform="rotate(-45)" x=".75" y=".3">Kempas Baru</text><use href="#s"/></g>
<g id="tampoi" transform="translate(205 229)"><text transform="rotate(-45)" x=".75" y=".3">Tampoi</text><use href="#s"/></g>
<g id="holiday-plaza" transform="translate(207 231)"><text transform="rotate(-45)" x=".75" y=".3">Holiday Plaza</text><use href="#s"/></g>
<g id="danga-city" transform="translate(209 233)"><text transform="rotate(-45)" x=".75" y=".3">Danga City</text><use href="#s"/></g>
<g id="jb-sentral" transform="translate(211 235)"><text transform="rotate(-45)" x=".75" y=".3">JB Sentral</text><use href="#s"/></g>
<g id="taman-seri-gombak" transform="translate(133 113)"><text transform="rotate(-90)" x=".75" y=".3">Taman Seri Gombak</text><use href="#s"/></g>
<g id="gombak-north" transform="translate(142 113)"><text transform="rotate(-90)" x=".75" y=".3">Gombak North</text><use href="#s"/></g>
<g id="genting-highlands" transform="translate(146 117)"><text class="e" transform="rotate(-45)" x="-.75" y=".3">Genting Highlands</text><use href="#s"/></g>
<g id="bukit-tinggi" transform="translate(149 120)"><text class="e" transform="rotate(-45)" x="-.75" y=".3">Bukit Tinggi</text><use href="#s"/></g>
<g id="r122" transform="translate(153 122)"><use href="#s"/></g>
<g id="gr121" transform="translate(154 121)"><use href="#s"/></g>
<g id="lurah-bilut" transform="translate(149 116)"><text transform="rotate(-45)" x=".75" y=".3">Lurah Bilut</text><use href="#s"/></g>
<g id="raub" transform="translate(148 111)"><text x=".75" y=".3">Raub</text><use href="#s"/></g>
<g id="gali" transform="translate(148 108)"><text x=".75" y=".3">Gali</text><use href="#s"/></g>
<g id="dong" transform="translate(148 105)"><text x=".75" y=".3">Dong</text><use href="#s"/></g>
<g id="kuala-dong" transform="translate(148 102)"><text x=".75" y=".3">Kuala Dong</text><use href="#s"/></g>
<g id="kampung-sega" transform="translate(148 99)"><text x=".75" y=".3">Kampung Sega</text><use href="#s"/></g>
<g id="sega-baharu" transform="translate(148 96)"><text x=".75" y=".3">Sega Baharu</text><use href="#s"/></g>
<g id="benta" transform="translate(148 93)"><text x=".75" y=".3">Benta</text><use href="#s"/></g>
<g id="batu-enam" transform="translate(148 90)"><text x=".75" y=".3">Batu Enam</text><use href="#s"/></g>
<g id="karak" transform="translate(155 130)"><text class="e" x="-.75" y=".3">Karak</text><use href="#s"/></g>
<g id="telemong" transform="translate(155 135)"><text class="e" x="-.75" y=".3">Telemong</text><use href="#s"/></g>
<g id="manchis" transform="translate(155 140)"><text class="e" x="-.75" y=".3">Manchis</text><use href="#s"/></g>
<g id="simpang-pelangai" transform="translate(155 145)"><text class="e" x="-.75" y=".3">Simpang Pelangai</text><use href="#s"/></g>
<g id="sinpang-durian" transform="translate(155 150)"><text class="e" x="-.75" y=".3">Sinpang Durian</text><use href="#s"/></g>
<g id="pasoh" transform="translate(155 155)"><text class="e" x="-.75" y=".3">Pasoh</text><use href="#s"/></g>
<g id="simpang-pertang" transform="translate(155 160)"><text class="e" x="-.75" y=".3">Simpang Pertang</text><use href="#s"/></g>
<g id="ulu-serting" transform="translate(155 165)"><text class="e" x="-.75" y=".3">Ulu Serting</text><use href="#s"/></g>
<g id="batu-kikir" transform="translate(155 169)"><text class="e" x="-.75" y=".3">Batu Kikir</text><use href="#s"/></g>
<g id="juasseh" transform="translate(155 173)"><text class="e" x="-.75" y=".3">Juasseh</text><use href="#s"/></g>
<g id="kuala-pilah" transform="translate(152 176)"><text class="e" x="-.75" y=".3">Kuala Pilah</text><use href="#s"/></g>
<g id="tanjung-ipoh" transform="translate(150 178)"><text x=".75" y=".3">Tanjung Ipoh</text><use href="#s"/></g>
<g id="ulu-bendul" transform="translate(148 180)"><text x=".75" y=".3">Ulu Bendul</text><use href="#s"/></g>
<g id="ampangan" transform="translate(146 182)"><text x=".75" y=".3">Ampangan</text><use href="#s"/></g>
<g id="rantau-panjang" transform="translate(147 18)"><text transform="rotate(-90)" x=".75" y=".3">Rantau Pajang</text><use href="#s"/></g>
<g id="gual-sitok" transform="translate(150 18)"><text transform="rotate(-90)" x=".75" y=".3">Gual Sitok</text><use href="#s"/></g>
<g id="gual-periok" transform="translate(153 18)"><text transform="rotate(-90)" x=".75" y=".3">Gual Periok</text><use href="#s"/></g>
<g id="repek" transform="translate(156 18)"><text transform="rotate(-90)" x=".75" y=".3">Repek</text><use href="#s"/></g>
<g id="pasir-mas" transform="translate(160 18)"><use href="#b"/><text x="1.5" y=".3">Pasir Mas</text><use href="#s"/></g>
<g id="bunut-susu" transform="translate(162 16)"><text x=".75" y=".3">Bunut Susu</text><use href="#s"/></g>
<g id="wakaf-baru" transform="translate(164 14)"><text x=".75" y=".3">Wakaf Baru</text><use href="#s"/></g>
<g id="palekbang" transform="translate(166 12)"><text x=".75" y=".3">Palekbang</text><use href="#s"/></g>
<g id="kampung-kok-pasir" transform="translate(164 10)"><text transform="rotate(-45)" x=".75" y=".3">Kampung Kok Pasir</text><use href="#s"/></g>
<g id="tumpat" transform="translate(162 8)"><text transform="rotate(-45)" x=".75" y=".3">Tumpat</text><use href="#s"/></g>
<g id="chicha-tinggi" transform="translate(160 20)"><text x=".75" y=".3">Chicha Tinggi</text><use href="#s"/></g>
<g id="to-uban" transform="translate(160 22)"><text x=".75" y=".3">To Uban</text><use href="#s"/></g>
<g id="sungai-keladi" transform="translate(160 24)"><text x=".75" y=".3">Sungai Keladi</text><use href="#s"/></g>
<g id="bukit-panau" transform="translate(160 26)"><text x=".75" y=".3">Bukit Panau</text><use href="#s"/></g>
<g id="tanah-merah" transform="translate(160 28)"><text x=".75" y=".3">Tanah Merah</text><use href="#s"/></g>
<g id="temangan" transform="translate(160 30)"><text x=".75" y=".3">Temangan</text><use href="#s"/></g>
<g id="sungai-nal" transform="translate(160 32)"><text x=".75" y=".3">Sungai Nal</text><use href="#s"/></g>
<g id="kuala-krai" transform="translate(160 34)"><text x=".75" y=".3">Kuala Krai</text><use href="#s"/></g>
<g id="pahi" transform="translate(160 36)"><text x=".75" y=".3">Pahi</text><use href="#s"/></g>
<g id="manek-urai" transform="translate(160 38)"><text x=".75" y=".3">Manek Urai</text><use href="#s"/></g>
<g id="kampung-baru-sungai-mengkuang" transform="translate(160 40)"><text x=".75" y=".3">Kampung Baru Sungai Mengkuang</text><use href="#s"/></g>
<g id="ulu-temiang" transform="translate(142 39)"><text x=".75" y=".3">Ulu Temiang</text><use href="#s"/></g>
<g id="kampung-baru-bukit-abu" transform="translate(142 37)"><text x=".75" y=".3">Kampung Baru Bukit Abu</text><use href="#s"/></g>
<g id="bukit-abu" transform="translate(142 35)"><text x=".75" y=".3">Bukit Abu</text><use href="#s"/></g>
<g id="kuala-gris" transform="translate(142 33)"><text x=".75" y=".3">Kuala Gris</text><use href="#s"/></g>
<g id="dabong" transform="translate(138 33)"><text class="e" x="-.75" y=".3">Dabong</text><use href="#s"/></g>
<g id="kemubu" transform="translate(138 35)"><text class="e" x="-.75" y=".3">Kemubu</text><use href="#s"/></g>
<g id="sri-jaya" transform="translate(138 37)"><text class="e" x="-.75" y=".3">Sri Jaya</text><use href="#s"/></g>
<g id="sri-mahligai" transform="translate(138 39)"><text class="e" x="-.75" y=".3">Sri Mahligai</text><use href="#s"/></g>
<g id="sri-bintang" transform="translate(138 41)"><text class="e" x="-.75" y=".3">Sri Bintang</text><use href="#s"/></g>
<g id="sungai-tasin" transform="translate(138 43)"><text class="e" x="-.75" y=".3">Sungai Tasin</text><use href="#s"/></g>
<g id="gerek-baru" transform="translate(138 45)"><text class="e" x="-.75" y=".3">Gerek Baru</text><use href="#s"/></g>
<g id="bertam" transform="translate(138 47)"><text class="e" x="-.75" y=".3">Bertam</text><use href="#s"/></g>
<g id="bertam-baru" transform="translate(138 49)"><text class="e" x="-.75" y=".3">Bertam Baru</text><use href="#s"/></g>
<g id="limau-kasturi" transform="translate(138 51)"><text class="e" x="-.75" y=".3">Limau Kasturi</text><use href="#s"/></g>
<g id="sungai-serian" transform="translate(138 53)"><text class="e" x="-.75" y=".3">Sungai Serian</text><use href="#s"/></g>
<g id="kampung-sungai-serian" transform="translate(138 55)"><text class="e" x="-.75" y=".3">Kampung Sungai Serian</text><use href="#s"/></g>
<g id="sungai-koyan" transform="translate(138 57)"><text class="e" x="-.75" y=".3">Sungai Koyan</text><use href="#s"/></g>
<g id="pan-malayan" transform="translate(138 59)"><text class="e" x="-.75" y=".3">Pan Malayan</text><use href="#s"/></g>
<g id="gua-muasang" transform="translate(138 61)"><text class="e" x="-.75" y=".3">Gua Muasang</text><use href="#s"/></g>
<g id="chin-teck" transform="translate(138 63)"><text class="e" x="-.75" y=".3">Chin Teck</text><use href="#s"/></g>
<g id="mentara-baru" transform="translate(138 65)"><text class="e" x="-.75" y=".3">Mentara Baru</text><use href="#s"/></g>
<g id="merapoh" transform="translate(138 67)"><text class="e" x="-.75" y=".3">Merapoh</text><use href="#s"/></g>
<g id="telok-gunong" transform="translate(138 69)"><text class="e" x="-.75" y=".3">Telok Gunong</text><use href="#s"/></g>
<g id="sungai-temau" transform="translate(138 71)"><text class="e" x="-.75" y=".3">Sungai Temau</text><use href="#s"/></g>
<g id="chegar-perah" transform="translate(138 73)"><text class="e" x="-.75" y=".3">Chegar Perah</text><use href="#s"/></g>
<g id="aur-gading" transform="translate(138 75)"><text class="e" x="-.75" y=".3">Aur Gading</text><use href="#s"/></g>
<g id="dura" transform="translate(138 77)"><text class="e" x="-.75" y=".3">Dura</text><use href="#s"/></g>
<g id="kampung-berkam" transform="translate(138 79)"><text class="e" x="-.75" y=".3">Kampung Berkam</text><use href="#s"/></g>
<g id="bukit-betong" transform="translate(138 81)"><text class="e" x="-.75" y=".3">Bukit Betong</text><use href="#s"/></g>
<g id="telang" transform="translate(140 84)"><text transform="rotate(-90)" x=".75" y=".3">Telang</text><use href="#s"/></g>
<g id="padang-tengku" transform="translate(144 84)"><text transform="rotate(-90)" x=".75" y=".3">Padang Tengku</text><use href="#s"/></g>
<g id="kuala-lipis" transform="translate(148 84)"><use href="#b"/><text transform="rotate(-90)" x="1.5" y=".3">Kuala Lipis</text><use href="#s"/></g>
<g id="batu-sembilan" transform="translate(152 84)"><text transform="rotate(-90)" x=".75" y=".3">Batu Sembilan</text><use href="#s"/></g>
<g id="kerambit" transform="translate(156 84)"><text transform="rotate(-90)" x=".75" y=".3">Kerambit</text><use href="#s"/></g>
<g id="mela" transform="translate(160 84)"><text transform="rotate(-90)" x=".75" y=".3">Mela</text><use href="#s"/></g>
<g id="temberling" transform="translate(165 85)"><text x=".75" y=".3">Temberling</text><use href="#s"/></g>
<g id="jerantut" transform="translate(165 93)"><text x=".75" y=".3">Jerantut</text><use href="#s"/></g>
<g id="jeransong" transform="translate(165 101)"><text x=".75" y=".3">Jeransong</text><use href="#s"/></g>
<g id="kuala-mai" transform="translate(165 108)"><text x=".75" y=".3">Kuala Mai</text><use href="#s"/></g>
<g id="kuala-krau" transform="translate(165 115)"><text x=".75" y=".3">Kuala Krau</text><use href="#s"/></g>
<g id="kerdau" transform="translate(165 122)"><text x=".75" y=".3">Kerdau</text><use href="#s"/></g>
<g id="mentakab" transform="translate(165 130)"><text x=".75" y=".3">Mentakab</text><use href="#s"/></g>
<g id="mengkarak" transform="translate(165 138)"><text x=".75" y=".3">Mengkarak</text><use href="#s"/></g>
<g id="teriang" transform="translate(165 146)"><text x=".75" y=".3">Teriang</text><use href="#s"/></g>
<g id="mengkuang" transform="translate(165 154)"><text x=".75" y=".3">Mengkuang</text><use href="#s"/></g>
<g id="kemayan" transform="translate(165 166)"><text x=".75" y=".3">Kemayan</text><use href="#s"/></g>
<g id="air-hitam" transform="translate(165 176)"><text x=".75" y=".3">Air Hitam</text><use href="#s"/></g>
<g id="bahau" transform="translate(166 191)"><text transform="rotate(-45)" x=".75" y=".3">Bahau</text><use href="#s"/></g>
<g id="rompin" transform="translate(168 193)"><text transform="rotate(-45)" x=".75" y=".3">Rompin</text><use href="#s"/></g>
<g id="bandar-botanik" transform="translate(78 174)"><text class="e" x="-.75" y=".3">Bandar Botanik</text><use href="#s"/></g>
<g id="telok-panglima-garang" transform="translate(78 177)"><text class="e" x="-.75" y=".3">Telok Panglima Garang</text><use href="#s"/></g>
<g id="jenjarom" transform="translate(78 180)"><text class="e" x="-.75" y=".3">Jenjarom</text><use href="#s"/></g>
<g id="banting" transform="translate(78 183)"><text class="e" x="-.75" y=".3">Banting</text><use href="#s"/></g>
<g id="morib" transform="translate(78 186)"><text class="e" x="-.75" y=".3">Morib</text><use href="#s"/></g>
<g id="tanjong-sepat" transform="translate(80 190)"><text class="e" transform="rotate(-45)" x="-.75" y=".3">Tanjong Sepat</text><use href="#s"/></g>
<g id="bagan-lalang" transform="translate(83 193)"><text class="e" transform="rotate(-45)" x="-.75" y=".3">Bagan Lalang</text><use href="#s"/></g>
<g id="sungai-pelek" transform="translate(86 196)"><text class="e" transform="rotate(-45)" x="-.75" y=".3">Sungai Pelek</text><use href="#s"/></g>
<g id="sepang" transform="translate(89 199)"><text class="e" transform="rotate(-45)" x="-.75" y=".3">Sepang</text><use href="#s"/></g>
<g id="tanah-merah-utara" transform="translate(92 202)"><text class="e" transform="rotate(-45)" x="-.75" y=".3">Tanah Merah Utara</text><use href="#s"/></g>
<g id="tanah-merah-selatan" transform="translate(95 205)"><text class="e" transform="rotate(-45)" x="-.75" y=".3">Tanah Merah Selatan</text><use href="#s"/></g>
<g id="lukut" transform="translate(98 208)"><text class="e" transform="rotate(-45)" x="-.75" y=".3">Lukut</text><use href="#s"/></g>
<g id="port-dickson-baharu" transform="translate(101 211)"><text class="e" transform="rotate(-45)" x="-.75" y=".3">Port Dickson Baharu</text><use href="#s"/></g>
<g id="bagan-pinang" transform="translate(104 214)"><text class="e" transform="rotate(-45)" x="-.75" y=".3">Bagan Pinang</text><use href="#s"/></g>
<g id="teluk-kemang" transform="translate(106 216)"><text class="e" transform="rotate(-45)" x="-.75" y=".3">Teluk Kemang</text><use href="#s"/></g>
<g id="si-rusa" transform="translate(108 218)"><text class="e" transform="rotate(-45)" x="-.75" y=".3">Si Rusa</text><use href="#s"/></g>
<g id="pasir-panjang" transform="translate(110 220)"><text class="e" transform="rotate(-45)" x="-.75" y=".3">Pasir Panjang</text><use href="#s"/></g>
<g id="linggi" transform="translate(112 222)"><text class="e" transform="rotate(-45)" x="-.75" y=".3">Linggi</text><use href="#s"/></g>
<g id="lubok-china" transform="translate(114 224)"><text class="e" transform="rotate(-45)" x="-.75" y=".3">Lubok China</text><use href="#s"/></g>
<g id="masjid-tanah" transform="translate(116 226)"><text class="e" transform="rotate(-45)" x="-.75" y=".3">Masjid Tanah</text><use href="#s"/></g>
<g id="masjid-tanah-selatan" transform="translate(118 228)"><text class="e" transform="rotate(-45)" x="-.75" y=".3">Masjid Tanah Selatan</text><use href="#s"/></g>
<g id="sungai-udang" transform="translate(122 228)"><text class="e" transform="rotate(-45)" x="-.75" y=".3">Sungai Udang</text><use href="#s"/></g>
<g id="tanggah-satu" transform="translate(126 228)"><text class="e" transform="rotate(-45)" x="-.75" y=".3">Tanggah Satu</text><use href="#s"/></g>
<g id="tanjong-kling" transform="translate(130 228)"><text class="e" transform="rotate(-45)" x="-.75" y=".3">Tanjong Kling</text><use href="#s"/></g>
<g id="batu-tiga-2" transform="translate(134 228)"><text class="e" transform="rotate(-45)" x="-.75" y=".3">Batu Tiga</text><use href="#s"/></g>
<g id="klebang-besar" transform="translate(138 228)"><text class="e" transform="rotate(-45)" x="-.75" y=".3">Klebang Besar</text><use href="#s"/></g>
<g id="klebang" transform="translate(142 228)"><text class="e" transform="rotate(-45)" x="-.75" y=".3">Klebang</text><use href="#s"/></g>
</g>
</g>
</svg>
